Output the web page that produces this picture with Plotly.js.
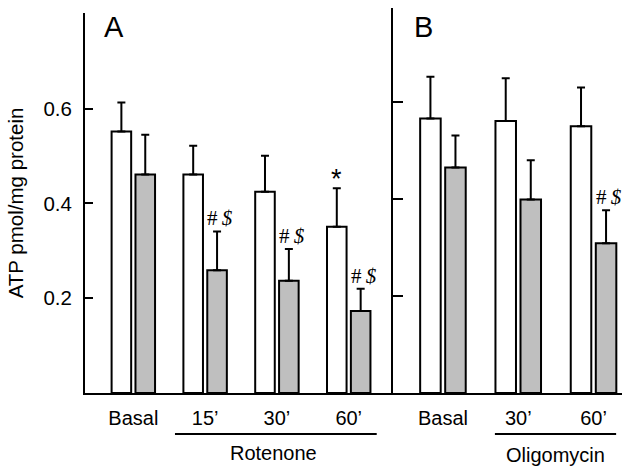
<!DOCTYPE html>
<html>
<head>
<meta charset="utf-8">
<script src="https://cdn.plot.ly/plotly-3.0.1.min.js"></script>
<style>html,body{margin:0;padding:0;background:#fff;}#chart{width:624px;height:468px;}</style>
</head>
<body>
<div id="chart"></div>
<script>
// Panel A (Rotenone)
var catsA = ['Basal', '15\u2019', '30\u2019', '60\u2019'];
var whiteA = [0.552, 0.461, 0.425, 0.351];
var whiteErrA = [0.061, 0.061, 0.076, 0.081];
var grayA = [0.461, 0.259, 0.237, 0.173];
var grayErrA = [0.084, 0.082, 0.067, 0.047];
// Panel B (Oligomycin)
var catsB = ['Basal', '30\u2019', '60\u2019'];
var whiteB = [0.566, 0.561, 0.550];
var whiteErrB = [0.086, 0.088, 0.080];
var grayB = [0.465, 0.399, 0.309];
var grayErrB = [0.066, 0.081, 0.068];
// significance marks: [panel, category index, series, label]
var marks = [
  ['A', 1, 'gray', '#\u2009<i>$</i>'],
  ['A', 2, 'gray', '#\u2009<i>$</i>'],
  ['A', 3, 'gray', '#\u2009<i>$</i>'],
  ['A', 3, 'white', '*'],
  ['B', 2, 'gray', '#\u2009<i>$</i>']
];

var FONT = 'Liberation Sans, Arial, Helvetica, sans-serif';

function barTrace(cats, vals, errs, fill, xa, ya) {
  return {
    type: 'bar', x: cats, y: vals, xaxis: xa, yaxis: ya,
    marker: {color: fill, line: {color: '#000', width: 2}},
    error_y: {type: 'data', symmetric: false, array: errs,
      arrayminus: errs.map(function(){return 0;}),
      color: '#000', thickness: 2, width: 4},
    showlegend: false, hoverinfo: 'skip'
  };
}

var data = [
  barTrace(catsA, whiteA, whiteErrA, '#ffffff', 'x', 'y'),
  barTrace(catsA, grayA, grayErrA, '#bfbfbf', 'x', 'y'),
  barTrace(catsB, whiteB, whiteErrB, '#ffffff', 'x2', 'y2'),
  barTrace(catsB, grayB, grayErrB, '#bfbfbf', 'x2', 'y2')
];

var annotations = marks.map(function(m) {
  var isA = m[0] === 'A';
  var cats = isA ? catsA : catsB;
  var vals, errs;
  if (m[2] === 'gray') { vals = isA ? grayA : grayB; errs = isA ? grayErrA : grayErrB; }
  else { vals = isA ? whiteA : whiteB; errs = isA ? whiteErrA : whiteErrB; }
  var star = m[3] === '*';
  return {
    xref: isA ? 'x' : 'x2', yref: isA ? 'y' : 'y2',
    x: cats[m[1]], y: vals[m[1]] + errs[m[1]],
    text: m[3], showarrow: false, yanchor: 'bottom', xanchor: 'center',
    xshift: star ? -12 : 15, yshift: star ? -8 : -1,
    font: star ? {family: FONT, size: 27, color: '#000'} : {family: 'Liberation Serif, Times New Roman, serif', size: 21, color: '#000'}
  };
});

annotations.push(
  {xref: 'paper', yref: 'paper', x: 0.054, y: 0.951, xanchor: 'center', yanchor: 'middle',
   text: 'A', showarrow: false, font: {family: FONT, size: 29, color: '#000'}},
  {xref: 'paper', yref: 'paper', x: 0.631, y: 0.951, xanchor: 'center', yanchor: 'middle',
   text: 'B', showarrow: false, font: {family: FONT, size: 29, color: '#000'}},
  {xref: 'x', yref: 'paper', x: 1.95, y: -0.155, xanchor: 'center', yanchor: 'middle',
   text: 'Rotenone', showarrow: false, font: {family: FONT, size: 20, color: '#000'}},
  {xref: 'x2', yref: 'paper', x: 1.5, y: -0.16, xanchor: 'center', yanchor: 'middle',
   text: 'Oligomycin', showarrow: false, font: {family: FONT, size: 20, color: '#000'}}
);

var shapes = [
  {type: 'line', xref: 'x', yref: 'paper', x0: 0.58, x1: 3.39, y0: -0.1065, y1: -0.1065,
   line: {color: '#000', width: 2}},
  {type: 'line', xref: 'x2', yref: 'paper', x0: 0.69, x1: 2.30, y0: -0.1065, y1: -0.1065,
   line: {color: '#000', width: 2}}
];

var xbase = {type: 'category', showline: true, linecolor: '#000', linewidth: 2,
  ticks: '', showgrid: false, zeroline: false, fixedrange: true, ticklabelstandoff: 6,
  tickfont: {family: FONT, size: 20, color: '#000'}};

var layout = {
  width: 624, height: 468,
  margin: {l: 85, r: 2, t: 8, b: 75},
  paper_bgcolor: '#fff', plot_bgcolor: '#fff',
  barmode: 'group', bargap: 0.335, bargroupgap: 0.18,
  font: {family: FONT, color: '#000'},
  xaxis: Object.assign({}, xbase, {domain: [0, 0.5736], range: [-0.673, 3.617], anchor: 'y'}),
  xaxis2: Object.assign({}, xbase, {domain: [0.5736, 1], range: [-0.663, 2.378], anchor: 'y2'}),
  yaxis: {domain: [0, 0.987], range: [0, 0.802], showline: true, linecolor: '#000', linewidth: 2,
    ticks: 'inside', ticklen: 8, tickwidth: 2, tickcolor: '#000',
    tickvals: [0.2, 0.4, 0.6], ticktext: ['0.2', '0.4', '0.6'],
    showgrid: false, zeroline: false, anchor: 'x', ticklabelstandoff: 7,
    tickfont: {family: FONT, size: 20.5, color: '#000'},
    title: {text: 'ATP pmol/mg protein', font: {family: FONT, size: 20.5, color: '#000'}, standoff: 14}},
  yaxis2: {domain: [0, 1], range: [0, 0.794], showline: true, linecolor: '#000', linewidth: 2,
    ticks: 'inside', ticklen: 10, tickwidth: 2, tickcolor: '#000',
    tickvals: [0.2, 0.4, 0.6], showticklabels: false,
    showgrid: false, zeroline: false, anchor: 'x2'},
  annotations: annotations,
  shapes: shapes
};

Plotly.newPlot('chart', data, layout, {displayModeBar: false, staticPlot: true});
</script>
</body>
</html>
